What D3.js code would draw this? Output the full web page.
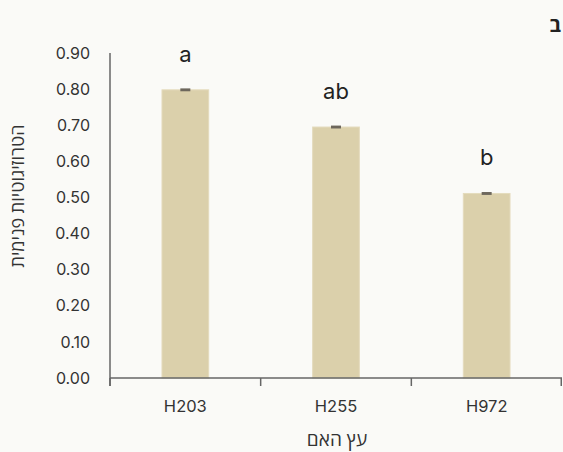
<!DOCTYPE html>
<html>
<head>
<meta charset="utf-8">
<script src="https://cdn.jsdelivr.net/npm/d3@7"></script>
<style>
  body { margin: 0; background: #fafaf7; }
  svg { display: block; }
  svg text { font-family: "Inter", "Open Sans", sans-serif; }
  svg text.heb { font-family: "Open Sans", "DejaVu Sans", sans-serif; }
</style>
</head>
<body>
<svg width="563" height="452"></svg>
<script>
var categories = ['H203', 'H255', 'H972'];
var values = [0.798, 0.695, 0.511];
var errors = [0.004, 0.004, 0.004];
var letters = ['a', 'ab', 'b'];
var yTicks = [0, 0.1, 0.2, 0.3, 0.4, 0.5, 0.6, 0.7, 0.8, 0.9];

var svg = d3.select('svg');
var margin = {left: 110, right: 1, top: 53, bottom: 74};
var width = 563 - margin.left - margin.right;
var height = 452 - margin.top - margin.bottom;

var g = svg.append('g').attr('transform', 'translate(' + margin.left + ',' + margin.top + ')');

var x = d3.scaleBand().domain(categories).range([0, width]).paddingInner(0.69).paddingOuter(0.345);
var y = d3.scaleLinear().domain([0, 0.9]).range([height, 0]);

// bars
g.selectAll('rect.bar')
  .data(values)
  .enter().append('rect')
  .attr('class', 'bar')
  .attr('x', function(d, i) { return x(categories[i]); })
  .attr('y', function(d) { return y(d); })
  .attr('width', x.bandwidth())
  .attr('height', function(d) { return height - y(d); })
  .style('fill', '#dbd0ab')
  .style('stroke', '#e4dbbd')
  .style('stroke-width', 1);

// error bars
g.selectAll('rect.err')
  .data(values)
  .enter().append('rect')
  .attr('class', 'err')
  .attr('x', function(d, i) { return x(categories[i]) + x.bandwidth() / 2 - 5; })
  .attr('y', function(d, i) { return y(d + errors[i]); })
  .attr('width', 10)
  .attr('height', function(d, i) { return y(d - errors[i]) - y(d + errors[i]); })
  .style('fill', '#6d675c');

// letters
g.selectAll('text.letter')
  .data(values)
  .enter().append('text')
  .attr('class', 'letter')
  .attr('x', function(d, i) { return x(categories[i]) + x.bandwidth() / 2; })
  .attr('y', function(d) { return y(d) - 28; })
  .attr('text-anchor', 'middle')
  .style('font-size', '22px')
  .style('fill', '#222')
  .text(function(d, i) { return letters[i]; });

// y axis
var yAxis = g.append('g')
  .call(d3.axisLeft(y).tickValues(yTicks).tickFormat(d3.format('.2f')).tickSize(0).tickPadding(20));
yAxis.attr('font-family', null);
yAxis.select('.domain').remove();
yAxis.selectAll('text').style('font-size', '16px').style('fill', '#333');
g.append('line')
  .attr('x1', 0).attr('x2', 0)
  .attr('y1', 0).attr('y2', height + 8)
  .style('stroke', '#666').style('stroke-width', 1.5);

// x axis
var xAxis = g.append('g')
  .attr('transform', 'translate(0,' + height + ')')
  .call(d3.axisBottom(x).tickSize(0).tickPadding(22));
xAxis.attr('font-family', null);
xAxis.select('.domain').remove();
xAxis.selectAll('text').style('font-size', '16.5px').style('fill', '#333');
g.append('line')
  .attr('x1', 0).attr('x2', width)
  .attr('y1', height).attr('y2', height)
  .style('stroke', '#666').style('stroke-width', 1.5);
var step = x.step();
g.selectAll('line.xtick')
  .data(d3.range(categories.length + 1))
  .enter().append('line')
  .attr('class', 'xtick')
  .attr('x1', function(i) { return Math.min(i * step, width - 0.75); })
  .attr('x2', function(i) { return Math.min(i * step, width - 0.75); })
  .attr('y1', height).attr('y2', height + 8)
  .style('stroke', '#666').style('stroke-width', 1.5);

// axis titles
svg.append('text')
  .attr('class', 'heb')
  .attr('transform', 'translate(24,196) rotate(-90)')
  .attr('text-anchor', 'middle')
  .style('font-size', '18px')
  .style('fill', '#333')
  .text('הטרוזיגוטיות פנימית');

svg.append('text')
  .attr('class', 'heb')
  .attr('x', 337)
  .attr('y', 446)
  .attr('text-anchor', 'middle')
  .style('font-size', '19px')
  .style('fill', '#333')
  .text('עץ האם');

svg.append('text')
  .attr('class', 'heb')
  .attr('x', 561)
  .attr('y', 32)
  .attr('text-anchor', 'end')
  .style('font-size', '20px')
  .style('font-weight', 'bold')
  .style('fill', '#222')
  .text('ב');
</script>
</body>
</html>
